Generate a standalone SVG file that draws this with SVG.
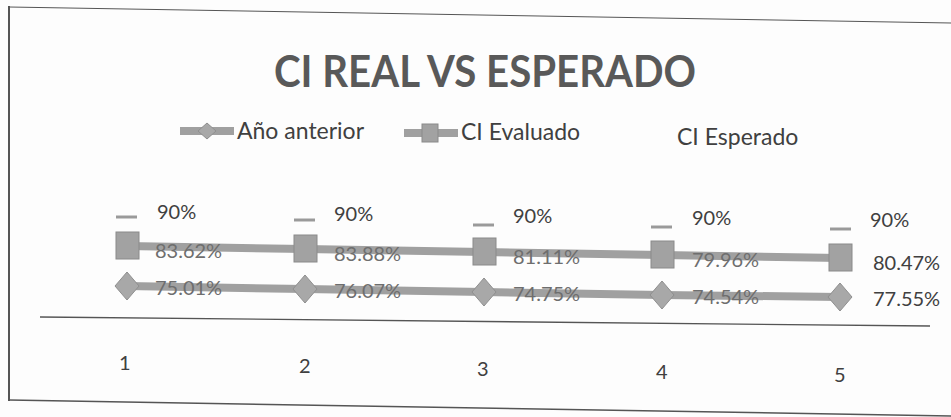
<svg xmlns="http://www.w3.org/2000/svg" width="951" height="417" viewBox="0 0 951 417">
<style>
.t{font-family:Lato,"Open Sans","Liberation Sans",sans-serif;fill:#404040}
.lab{font-size:20px}
.leg{font-size:23px}
.dim{fill:#6e6e6e}
.ttl{font-size:43px;font-weight:bold;fill:#595959}
.ln{stroke:#a0a0a0;stroke-width:8;fill:none}
.sq{fill:#a2a2a2;stroke:#8a8a8a;stroke-width:1}
.dm{fill:#a8a8a8;stroke:#8f8f8f;stroke-width:1}
.ds{stroke:#9a9a9a;stroke-width:3}
.fr{stroke:#555;fill:none}
</style>
<rect width="951" height="417" fill="#fdfdfd"/>
<g id="frame">
<line class="fr" x1="9" y1="7" x2="951" y2="23" stroke-width="1" stroke="#777"/>
<line class="fr" x1="9" y1="6" x2="9" y2="401" stroke-width="2"/>
<line class="fr" x1="9" y1="400" x2="951" y2="416" stroke-width="1.5"/>
<line class="fr" x1="40" y1="317" x2="930" y2="326" stroke-width="1.3" stroke="#666"/>
</g>
<g id="title"><text class="t ttl" x="485" y="87" text-anchor="middle" textLength="422" lengthAdjust="spacingAndGlyphs">CI REAL VS ESPERADO</text></g>
<g id="legend">
<line class="ln" x1="180" y1="131" x2="234" y2="131" stroke-width="5"/>
<polygon class="dm" points="207,123 216,131 207,139 198,131"/>
<text class="t leg" x="237" y="139">Año anterior</text>
<line class="ln" x1="404" y1="133" x2="458" y2="133" stroke-width="5"/>
<rect class="sq" x="422" y="124" width="16" height="18"/>
<text class="t leg" x="461" y="140">CI Evaluado</text>
<text class="t leg" x="677" y="145">CI Esperado</text>
</g>
<g id="connectors">
<polyline class="ln" points="127,246 305,249 484,252 662,255 840,258"/>
<polyline class="ln" points="127,286 305,289 484,292 662,295 840,297"/>
</g>
<g id="p1">
<line class="ds" x1="116" y1="217" x2="137" y2="217"/>
<rect class="sq" x="116" y="232" width="23" height="27"/>
<polygon class="dm" points="127,272 139,286 127,300 115,286"/>
<text class="t lab" x="157" y="219">90%</text>
<text class="t lab dim" x="155" y="258">83.62%</text>
<text class="t lab dim" x="155" y="295">75.01%</text>
<text class="t lab" x="119" y="370">1</text>
</g>
<g id="p2">
<line class="ds" x1="294" y1="220" x2="315" y2="220"/>
<rect class="sq" x="294" y="235" width="23" height="27"/>
<polygon class="dm" points="305,275 317,289 305,303 293,289"/>
<text class="t lab" x="334" y="221">90%</text>
<text class="t lab dim" x="334" y="261">83.88%</text>
<text class="t lab dim" x="334" y="298">76.07%</text>
<text class="t lab" x="299" y="373">2</text>
</g>
<g id="p3">
<line class="ds" x1="473" y1="225" x2="494" y2="225"/>
<rect class="sq" x="473" y="238" width="23" height="27"/>
<polygon class="dm" points="484,278 496,292 484,306 472,292"/>
<text class="t lab" x="513" y="223">90%</text>
<text class="t lab dim" x="513" y="264">81.11%</text>
<text class="t lab dim" x="513" y="301">74.75%</text>
<text class="t lab" x="477" y="376">3</text>
</g>
<g id="p4">
<line class="ds" x1="651" y1="227" x2="672" y2="227"/>
<rect class="sq" x="651" y="241" width="23" height="27"/>
<polygon class="dm" points="662,281 674,295 662,309 650,295"/>
<text class="t lab" x="692" y="225">90%</text>
<text class="t lab dim" x="692" y="267">79.96%</text>
<text class="t lab dim" x="692" y="304">74.54%</text>
<text class="t lab" x="656" y="379">4</text>
</g>
<g id="p5">
<line class="ds" x1="830" y1="229" x2="851" y2="229"/>
<rect class="sq" x="829" y="244" width="23" height="27"/>
<polygon class="dm" points="840,283 852,297 840,311 828,297"/>
<text class="t lab" x="870" y="227">90%</text>
<text class="t lab" x="873" y="270">80.47%</text>
<text class="t lab" x="873" y="306">77.55%</text>
<text class="t lab" x="834" y="382">5</text>
</g>
</svg>
